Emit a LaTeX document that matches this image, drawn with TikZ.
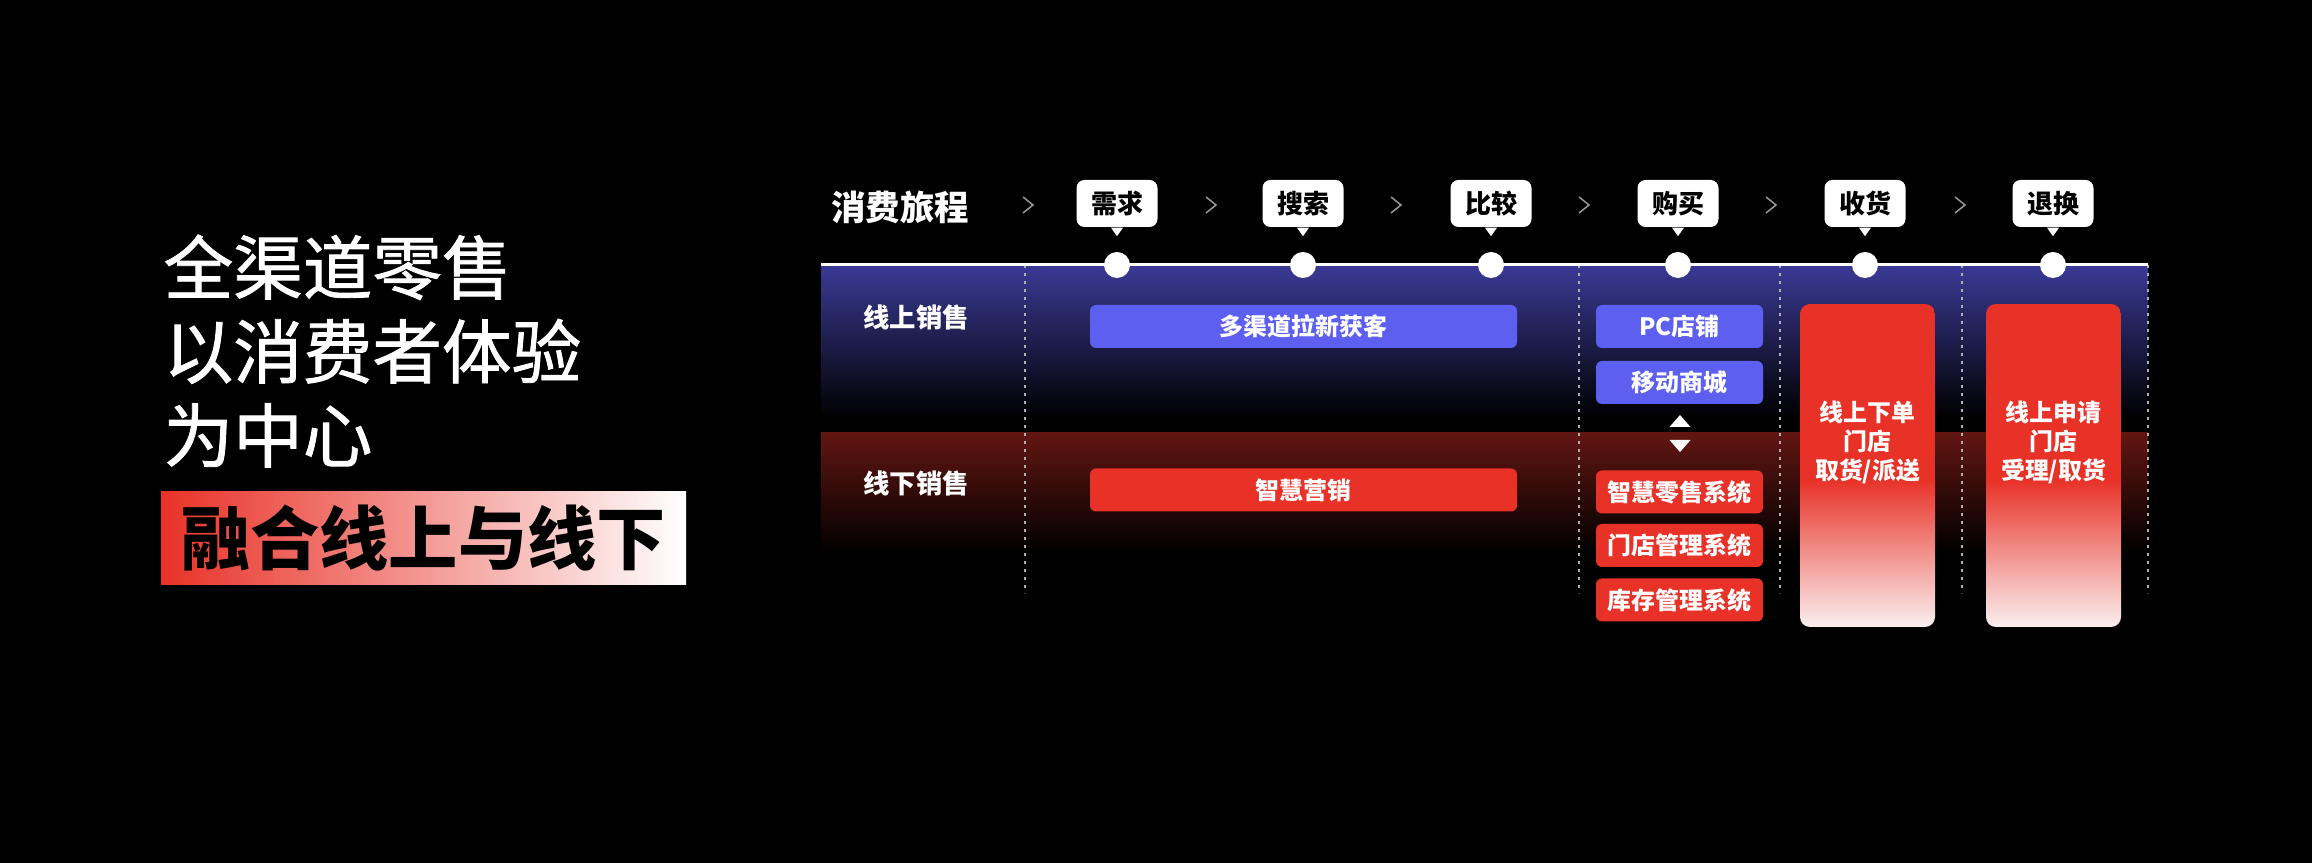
\documentclass[tikz,border=0pt]{standalone}
\usepackage{fontspec}
\setmainfont{Noto Sans CJK SC}
\newfontfamily\titlefont[FakeBold=1.2]{Noto Sans CJK SC}

\definecolor{boxblue}{RGB}{92,95,240}
\definecolor{boxred}{RGB}{232,50,40}
\definecolor{bandblue}{RGB}{58,58,150}
\definecolor{bandred}{RGB}{98,22,18}
\definecolor{fadewhite}{RGB}{251,240,240}
\definecolor{dotgray}{RGB}{175,175,175}
\definecolor{chevgray}{RGB}{150,150,150}

\begin{document}
\begin{tikzpicture}[x=0.1mm, y=-0.1mm,
    stagetag/.style={fill=white, rounded corners=0.8mm, minimum width=8.1mm, minimum height=4.7mm,
        inner sep=0pt, font=\bfseries\fontsize{7.4}{8}\selectfont},
    stagedot/.style={circle, fill=white, minimum size=2.6mm, inner sep=0pt},
    lanelabel/.style={text=white, font=\bfseries\fontsize{7.5}{9}\selectfont},
    itembox/.style={rounded corners=0.6mm, minimum height=4.3mm, inner sep=0pt, text=white,
        font=\bfseries\fontsize{6.8}{8}\selectfont},
    onlinebox/.style={itembox, fill=boxblue},
    offlinebox/.style={itembox, fill=boxred},
    colbox/.style={rounded corners=1mm, minimum width=13.5mm, minimum height=32.3mm, inner sep=0pt,
        path picture={
            \fill[boxred, sharp corners] (path picture bounding box.north west) rectangle ([yshift=14.6mm]path picture bounding box.south east);
            \shade[top color=boxred, bottom color=fadewhite, sharp corners] ([yshift=14.7mm]path picture bounding box.south west) rectangle (path picture bounding box.south east);
        }},
    coltext/.style={text=white, align=center, font=\bfseries\fontsize{6.8}{8.25}\selectfont},
    chev/.style={draw=chevgray, line width=0.15mm},
    sepline/.style={draw=dotgray, line width=0.15mm, dash pattern=on 0.3mm off 0.5mm},
]
    % Canvas
    \fill[black] (0,0) rectangle (2312,863);
    \useasboundingbox (0,0) rectangle (2312,863);

    % Title on the left
    \node[anchor=west, align=left, text=white, inner sep=0pt, font=\titlefont\fontsize{19.8}{23.9}\selectfont] (title) at (163,351)
        {全渠道零售\\以消费者体验\\为中心};
    \node[left color=boxred, right color=white, minimum width=52.5mm, minimum height=9.3mm, inner sep=0pt,
        font=\bfseries\fontsize{19.7}{21}\selectfont] (fuse) at (423.5,538.5) {融合线上与线下};

    % Lane backgrounds
    \shade[top color=bandblue, bottom color=black] (821,265) rectangle (2148,418);
    \shade[top color=bandred, bottom color=black] (821,433) rectangle (2148,552);

    % Dotted separators
    \draw[sepline] (1025,265) -- (1025,593);
    \draw[sepline] (1579,265) -- (1579,593);
    \draw[sepline] (1780,265) -- (1780,593);
    \draw[sepline] (1962,265) -- (1962,593);
    \draw[sepline] (2148,265) -- (2148,593);

    % Timeline
    \coordinate (tl-start) at (821,265);
    \coordinate (tl-end) at (2148,265);
    \draw[white, line width=0.3mm] (tl-start) -- (tl-end);
    \node[stagedot] (d1) at (1117,265) {};
    \node[stagedot] (d2) at (1303,265) {};
    \node[stagedot] (d3) at (1491,265) {};
    \node[stagedot] (d4) at (1678,265) {};
    \node[stagedot] (d5) at (1865,265) {};
    \node[stagedot] (d6) at (2053,265) {};

    % Journey header
    \node[text=white, font=\bfseries\fontsize{9.8}{11}\selectfont] (journey) at (900,207) {消费旅程};
    \node[stagetag] (need) at (1117,203.5) {需求};
    \node[stagetag] (search) at (1303,203.5) {搜索};
    \node[stagetag] (compare) at (1491,203.5) {比较};
    \node[stagetag] (buy) at (1678,203.5) {购买};
    \node[stagetag] (receive) at (1865,203.5) {收货};
    \node[stagetag] (exchange) at (2053,203.5) {退换};
    \foreach \s in {need,search,compare,buy,receive,exchange}
        \fill[white] ([xshift=-0.6mm]\s.south) -- ([yshift=-0.85mm]\s.south) -- ([xshift=0.6mm]\s.south) -- cycle;

    % Chevrons between the stages
    \draw[chev] (1023,197) -- (1033,205) -- (1023,213);
    \draw[chev] (1206,197) -- (1216,205) -- (1206,213);
    \draw[chev] (1391,197) -- (1401,205) -- (1391,213);
    \draw[chev] (1579,197) -- (1589,205) -- (1579,213);
    \draw[chev] (1766,197) -- (1776,205) -- (1766,213);
    \draw[chev] (1955,197) -- (1965,205) -- (1955,213);

    % Lane labels
    \node[lanelabel] (online) at (916,317) {线上销售};
    \node[lanelabel] (offline) at (916,483) {线下销售};

    % Boxes in the lanes
    \node[onlinebox, minimum width=42.7mm] (acquire) at (1303.5,326.5) {多渠道拉新获客};
    \node[offlinebox, minimum width=42.7mm] (smartmkt) at (1303.5,490) {智慧营销};
    \node[onlinebox, minimum width=16.7mm] (pcshop) at (1679.5,326.5) {PC店铺};
    \node[onlinebox, minimum width=16.7mm] (mobile) at (1679.5,382.5) {移动商城};
    \node[offlinebox, minimum width=16.7mm] (retail) at (1679.5,492) {智慧零售系统};
    \node[offlinebox, minimum width=16.7mm] (store) at (1679.5,545.5) {门店管理系统};
    \node[offlinebox, minimum width=16.7mm] (stock) at (1679.5,600) {库存管理系统};

    % Up and down markers
    \fill[white] (1669.5,427) -- (1680,415) -- (1690.5,427) -- cycle;
    \fill[white] (1669.5,440) -- (1680,452) -- (1690.5,440) -- cycle;

    % Columns for receiving and exchange
    \node[colbox] (recvcol) at (1867.5,465.5) {};
    \node[coltext] (recvtxt) at ([yshift=2.3mm]recvcol.center) {线上下单\\门店\\取货/派送};
    \node[colbox] (exchcol) at (2053.5,465.5) {};
    \node[coltext] (exchtxt) at ([yshift=2.3mm]exchcol.center) {线上申请\\门店\\受理/取货};

\end{tikzpicture}
\end{document}
